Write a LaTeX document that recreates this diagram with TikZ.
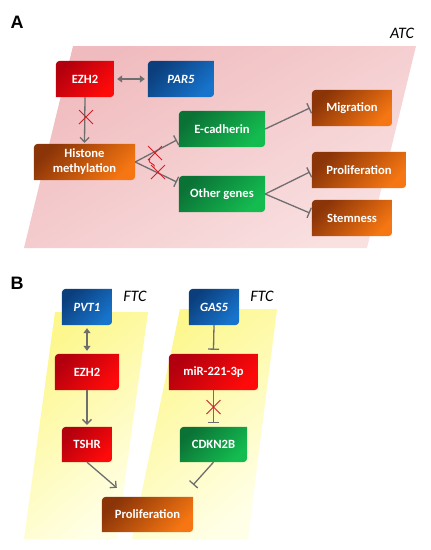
\documentclass[tikz,border=0pt]{standalone}
\usepackage{fontspec}
\setmainfont{Carlito}
\newfontfamily\panelfont{Liberation Sans}
\usetikzlibrary{arrows.meta,calc}
\definecolor{wire}{HTML}{6E6E6E}
\definecolor{cutred}{HTML}{D0202A}
\definecolor{reddk}{HTML}{B3000E}
\definecolor{redlt}{HTML}{FF0A0A}
\definecolor{bluedk}{HTML}{0B3E7C}
\definecolor{bluelt}{HTML}{1774CC}
\definecolor{orangedk}{HTML}{8A3408}
\definecolor{orangelt}{HTML}{F57612}
\definecolor{greendk}{HTML}{0B7236}
\definecolor{greenlt}{HTML}{14BC50}
\definecolor{pinkdk}{HTML}{F0BBBE}
\definecolor{pinklt}{HTML}{F9E0E1}
\definecolor{yellowdk}{HTML}{FDF78C}
\definecolor{yellowlt}{HTML}{FFFFE8}
\pgfdeclarelayer{panels}
\pgfdeclarelayer{boxes}
\pgfsetlayers{panels,boxes,main}

\begin{document}
\begin{tikzpicture}[x=1pt,y=-1pt,>=Latex,
    gene/.style={minimum height=36pt,inner sep=0pt,text=white,
      font=\fontsize{12.6}{15}\selectfont\bfseries,align=center},
    link/.style={wire,line width=1.3pt},
    twoway/.style={{Triangle[length=5pt,width=7pt]}-{Triangle[length=5pt,width=7pt]}},
    acts/.style={-{Straight Barb[length=4.5pt,width=9pt]}},
    blocks/.style={-{Bar[width=11pt,line width=1.3pt]}},
    cut/.style={cutred,line width=0.9pt},
    tag/.style={font=\fontsize{16}{18}\selectfont\itshape}]
  \useasboundingbox (0,0) rectangle (431,550);

  % panel letters and cell lines
  \node[font=\panelfont\fontsize{18}{20}\selectfont\bfseries] (pa) at (17,22) {A};
  \node[font=\panelfont\fontsize{18}{20}\selectfont\bfseries] (pb) at (17,283) {B};
  \node[tag] (atc) at (402,33) {ATC};
  \node[tag] (ftc1) at (135,296) {FTC};
  \node[tag] (ftc2) at (262,296) {FTC};

  % A: anaplastic carcinoma
  \node[gene,minimum width=58pt] (ezhA) at (85,79) {EZH2};
  \node[gene,minimum width=66pt] (parA) at (181,79) {\itshape PAR5};
  \node[gene,minimum width=101pt] (hist) at (84.5,162) {Histone\\methylation};
  \node[gene,minimum width=86pt] (ecad) at (222,129) {E-cadherin};
  \node[gene,minimum width=86pt] (other) at (222,194) {Other genes};
  \node[gene,minimum width=80pt] (migr) at (352,108) {Migration};
  \node[gene,minimum width=94pt] (prolA) at (359,170) {Proliferation};
  \node[gene,minimum width=80pt] (stem) at (352,218) {Stemness};

  % B: follicular carcinoma
  \node[gene,minimum width=50pt] (pvt) at (87,307) {\itshape PVT1};
  \node[gene,minimum width=64pt] (ezhB) at (87,372) {EZH2};
  \node[gene,minimum width=50pt,minimum height=35pt] (tshr) at (87,444.5) {TSHR};
  \node[gene,minimum width=91pt,minimum height=35pt] (prolB) at (147.5,514.5) {Proliferation};
  \node[gene,minimum width=50pt] (gas) at (214,307) {\itshape GAS5};
  \node[gene,minimum width=89pt] (mir) at (213.5,372) {miR-221-3p};
  \node[gene,minimum width=67pt,minimum height=35pt] (cdk) at (213.5,444.5) {CDKN2B};

  % box bodies: rounded top-left and bottom-right only
  \begin{pgfonlayer}{boxes}
    \foreach \n/\c in {ezhA/red,parA/blue,hist/orange,ecad/green,other/green,
        migr/orange,prolA/orange,stem/orange,pvt/blue,ezhB/red,tshr/red,
        prolB/orange,gas/blue,mir/red,cdk/green} {
      \begin{scope}
        \clip[rounded corners=4pt] (\n.south west) rectangle (\n.north east)
          [sharp corners] ($(\n.north east)+(-6pt,-6pt)$) rectangle (\n.north east)
          (\n.south west) rectangle ($(\n.south west)+(6pt,6pt)$);
        \shade[top color=\c dk,bottom color=\c lt,shading angle=45]
          (\n.south west) rectangle (\n.north east);
      \end{scope}
    }
  \end{pgfonlayer}

  % shaded backgrounds
  \begin{pgfonlayer}{panels}
    \shade[top color=pinkdk,bottom color=pinklt,shading angle=30]
      (73,46) -- (416,46) -- (367,248) -- (24,248) -- cycle;
    \shade[top color=yellowdk,bottom color=yellowlt,shading angle=40]
      (55,312) -- (148,312) -- (117,539) -- (24,539) -- cycle;
    \shade[top color=yellowdk,bottom color=yellowlt,shading angle=40]
      (180,309) -- (277,309) -- (248,539) -- (132,539) -- cycle;
  \end{pgfonlayer}

  % A connectors
  \draw[link,twoway] ([xshift=3pt]ezhA.east) -- ([xshift=-3pt]parA.west);
  \draw[link,acts] (ezhA.south) -- ([yshift=1pt]hist.north);
  \draw[link,blocks] (hist.east) -- ($(ecad.west)+(-2,11)$);
  \draw[link,blocks] (hist.east) -- ($(other.west)+(-2,-12)$);
  \draw[link,blocks] (ecad.east) -- ($(migr.west)+(-2,0)$);
  \draw[link,blocks] (other.east) -- ($(prolA.west)+(-2,2)$);
  \draw[link,blocks] (other.east) -- ($(stem.west)+(-2,-5)$);

  % B connectors
  \draw[link,twoway] ([yshift=-3pt]pvt.south) -- ([yshift=3pt]ezhB.north);
  \draw[link,acts] (ezhB.south) -- ([yshift=2pt]tshr.north);
  \draw[link,acts] (tshr.south) -- ($(prolB.north west)+(15,-9)$);
  \draw[link,blocks] (gas.south) -- ([yshift=4pt]mir.north);
  \draw[link,blocks] (mir.south) -- ([yshift=4pt]cdk.north);
  \draw[link,blocks] (cdk.south) -- ($(prolB.north east)+(0,-12)$);

  % blocked steps
  \coordinate (x1) at (86,117);
  \coordinate (x2) at (155,153);
  \coordinate (x3) at (158,172);
  \coordinate (x4) at (213.5,407);
  \foreach \p in {x1,x2,x3,x4}
    \draw[cut] (\p) +(-7,-7) -- +(7,7) +(-7,7) -- +(7,-7);
  \draw[cut] (150,159) .. controls (146,164) and (157,163) .. (154,168);
\end{tikzpicture}
\end{document}
